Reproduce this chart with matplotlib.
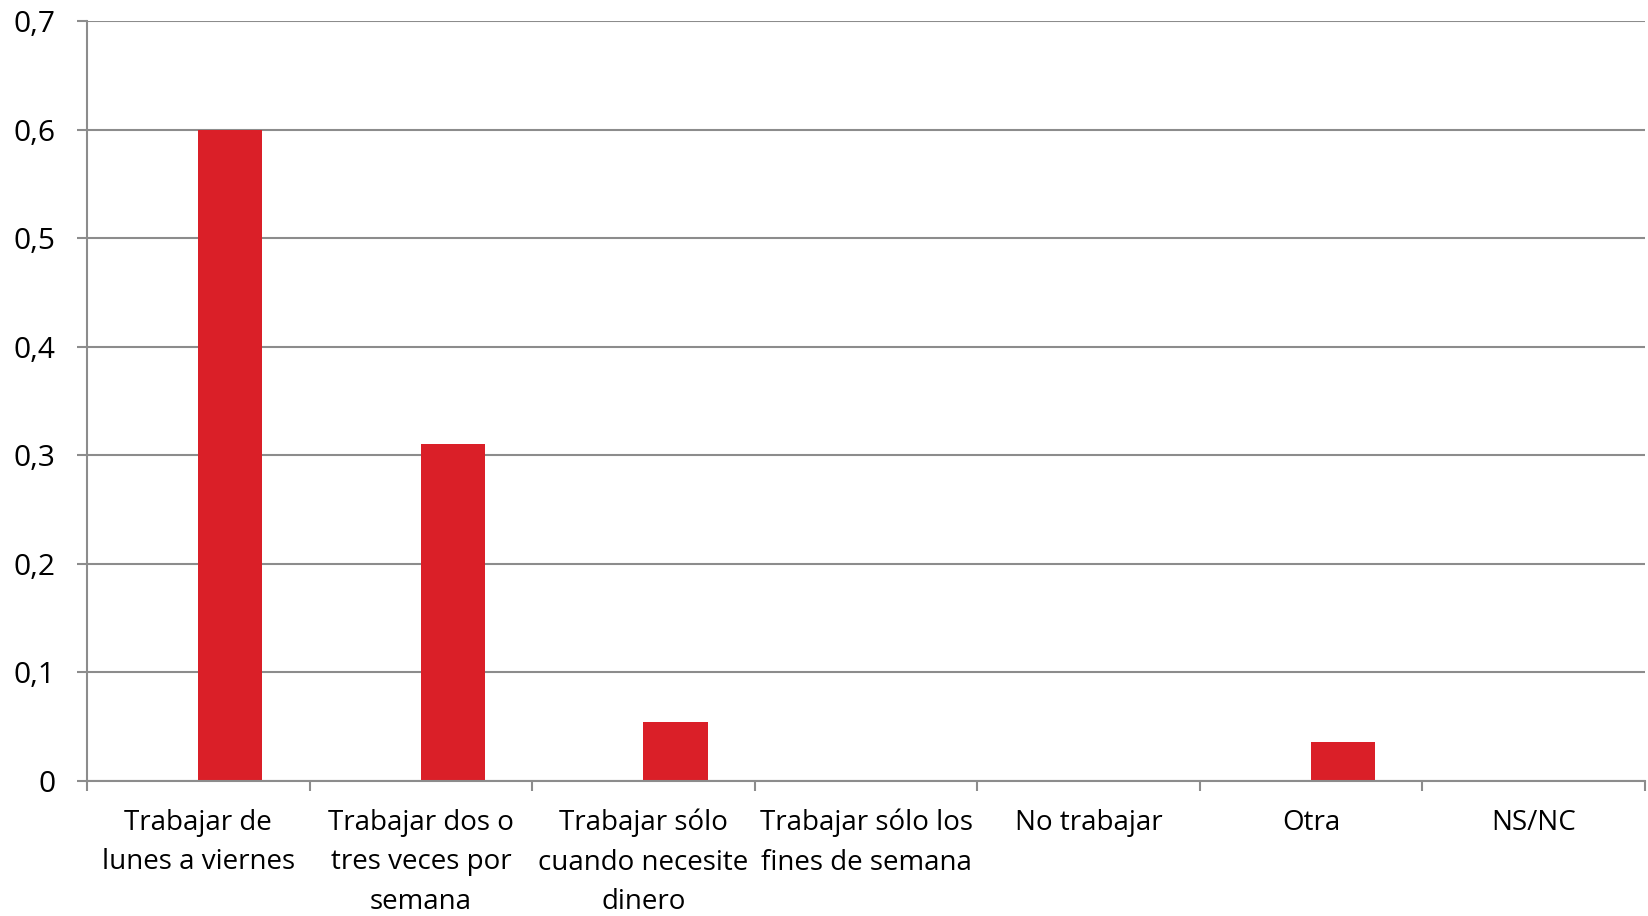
import matplotlib
matplotlib.use("Agg")
import matplotlib.pyplot as plt
from matplotlib.ticker import FuncFormatter

categories = [
    "Trabajar de\nlunes a viernes",
    "Trabajar dos o\ntres veces por\nsemana",
    "Trabajar sólo\ncuando necesite\ndinero",
    "Trabajar sólo los\nfines de semana",
    "No trabajar",
    "Otra",
    "NS/NC",
]
values = [0.6, 0.31, 0.054, 0.0, 0.0, 0.036, 0.0]
yticks = [0, 0.1, 0.2, 0.3, 0.4, 0.5, 0.6, 0.7]

plt.rcParams['font.family'] = ['Open Sans', 'DejaVu Sans']
grid_color = "#8c8c8c"
bar_color = "#da1f28"

fig = plt.figure(figsize=(16.48, 9.16), dpi=100)
ax = fig.add_axes([87/1648, 1-781/916, (1645-87)/1648, (781-21)/916])

n = len(categories)
centers = [i + 0.5 for i in range(n)]
ax.bar(centers, values, width=0.288, align='edge', color=bar_color, zorder=3)

ax.set_xlim(0, n)
ax.set_ylim(0, 0.7)
ax.set_yticks(yticks)
ax.yaxis.set_major_formatter(FuncFormatter(lambda v, p: ("%g" % round(v, 2)).replace(".", ",")))
ax.set_xticks(range(n + 1))
ax.set_xticklabels([])
ax.set_xticks(centers, minor=True)
ax.set_xticklabels(categories, minor=True, fontsize=20, linespacing=1.55, va='top')
ax.tick_params(axis='x', which='minor', length=0, pad=20)
ax.tick_params(axis='x', which='major', length=7.5, width=1.5, color=grid_color, direction='out')
ax.tick_params(axis='y', length=7.5, width=1.5, color=grid_color, pad=15, labelsize=21.5)

ax.yaxis.grid(True, color=grid_color, linewidth=1.5, zorder=0)
ax.set_axisbelow(True)
for s in ['top', 'right']:
    ax.spines[s].set_visible(False)
for s in ['left', 'bottom']:
    ax.spines[s].set_color(grid_color)
    ax.spines[s].set_linewidth(1.5)
ax.spines['bottom'].set_zorder(4)

fig.savefig("out.png", dpi=100)
